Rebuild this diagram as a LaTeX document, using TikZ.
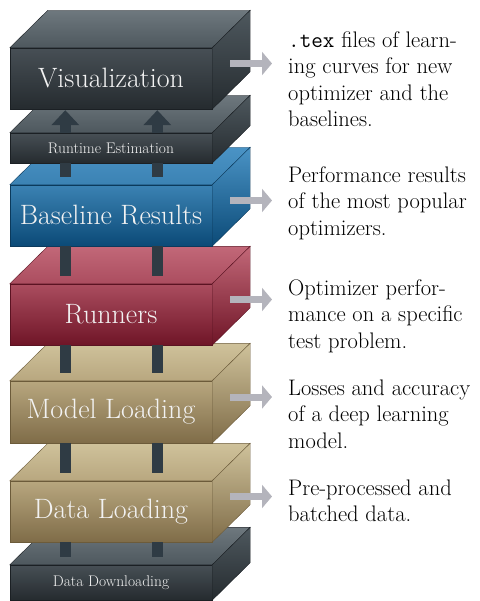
\documentclass[tikz,border=0pt]{standalone}
\usetikzlibrary{arrows.meta,calc,positioning}

\definecolor{slateA}{HTML}{474F55}
\definecolor{slateB}{HTML}{252B2F}
\definecolor{slateC}{HTML}{6E787E}
\definecolor{slateD}{HTML}{4E585E}
\definecolor{slateedge}{HTML}{1B2024}
\definecolor{blueA}{HTML}{3B82B3}
\definecolor{blueB}{HTML}{0B4A77}
\definecolor{blueC}{HTML}{4A93C5}
\definecolor{blueedge}{HTML}{0B3A5C}
\definecolor{redA}{HTML}{AB4D5F}
\definecolor{redB}{HTML}{6F1527}
\definecolor{redC}{HTML}{C26878}
\definecolor{rededge}{HTML}{5B1322}
\definecolor{tanA}{HTML}{B8A77F}
\definecolor{tanB}{HTML}{7F6C48}
\definecolor{tanC}{HTML}{CFC29B}
\definecolor{tanedge}{HTML}{6C5B3A}
\definecolor{labeltext}{HTML}{F2F2F2}
\definecolor{pillarcol}{HTML}{2F3B44}
\definecolor{infogray}{HTML}{B4B4BC}

\tikzset{
  layer/.style={minimum width=202pt, inner sep=0pt, text=labeltext},
  bigtext/.style={font=\fontsize{28}{32}\selectfont},
  smalltext/.style={font=\fontsize{15.5}{18}\selectfont},
  slatefront/.style={draw=slateedge, top color=slateA, bottom color=slateB},
  slatetop/.style={draw=slateedge, top color=slateC, bottom color=slateD},
  slateside/.style={draw=slateedge, top color=slateD, bottom color=slateB},
  bluefront/.style={draw=blueedge, top color=blueA, bottom color=blueB},
  bluetop/.style={draw=blueedge, top color=blueC, bottom color=blueA},
  blueside/.style={draw=blueedge, top color=blueC, bottom color=blueB},
  redfront/.style={draw=rededge, top color=redA, bottom color=redB},
  redtop/.style={draw=rededge, top color=redC, bottom color=redA},
  redside/.style={draw=rededge, top color=redC, bottom color=redB},
  tanfront/.style={draw=tanedge, top color=tanA, bottom color=tanB},
  tantop/.style={draw=tanedge, top color=tanC, bottom color=tanA},
  tanside/.style={draw=tanedge, top color=tanC, bottom color=tanB},
  pillar/.style={draw=pillarcol, line width=11pt, shorten >=7.5pt},
  lift/.style={draw=pillarcol, line width=11pt, shorten >=1pt, -{Triangle[length=15pt,width=27pt]}},
  infoarrow/.style={draw=infogray, line width=7pt, shorten >=16pt, -{Triangle[length=10pt,width=23pt]}},
  info/.style={anchor=north west, inner sep=0pt, align=left, font=\fontsize{22.5}{26.6}\selectfont}
}

% top and side faces of a layer
\newcommand{\layerfaces}[2]{%
  \draw[#2top] (#1.north west) -- ++(38,-37.5) -- ($(#1.north east)+(38,-37.5)$) -- (#1.north east) -- cycle;
  \draw[#2side] (#1.north east) -- ++(38,-37.5) -- ($(#1.south east)+(38,-37.5)$) -- (#1.south east) -- cycle;
}

\begin{document}
\begin{tikzpicture}[x=1pt,y=-1pt]
\useasboundingbox (0,0) rectangle (479,601);

% layers, bottom up
\node[layer, slatefront, smalltext, minimum height=35pt] (down) at (111,582.5) {Data Downloading};
\layerfaces{down}{slate}
\node[layer, tanfront, bigtext, minimum height=61pt] (data) at (111,511.5) {Data Loading};
\layerfaces{data}{tan}
\node[layer, tanfront, bigtext, minimum height=62pt] (model) at (111,412) {Model Loading};
\layerfaces{model}{tan}
\node[layer, redfront, bigtext, minimum height=61pt] (runners) at (111,314.5) {Runners};
\layerfaces{runners}{red}
\node[layer, bluefront, bigtext, minimum height=61pt] (base) at (111,215.5) {Baseline Results};
\layerfaces{base}{blue}
\node[layer, slatefront, smalltext, minimum height=30pt] (run) at (111,148) {Runtime Estimation};
\layerfaces{run}{slate}
\node[layer, slatefront, bigtext, minimum height=61pt] (vis) at (111,78.5) {Visualization};
\layerfaces{vis}{slate}

% pillars between layers
\foreach \up/\lo in {run/base, base/runners, runners/model, model/data, data/down}
  \foreach \dx in {55.5pt,147.5pt}
    \draw[pillar] ([xshift=\dx]\up.south west) -- ([xshift=\dx]\lo.north west);
\foreach \dx in {55.5pt,147.5pt}
  \draw[lift] ([xshift=\dx]run.north west) -- ([xshift=\dx]vis.south west);

% descriptions
\node[info] (vis-info) at (288,31.1) {\texttt{.tex} files of learn-\\ing curves for new\\optimizer and the\\baselines.};
\node[info] (base-info) at (288,166.1) {Performance results\\of the most popular\\optimizers.};
\node[info] (runners-info) at (288,279.4) {Optimizer perfor-\\mance on a specific\\test problem.};
\node[info] (model-info) at (288,379.4) {Losses and accuracy\\of a deep learning\\model.};
\node[info] (data-info) at (288,479.4) {Pre-processed and\\batched data.};

\foreach \n in {vis,base,runners,model,data} {
  \coordinate (\n-side) at ($(\n.east)+(18,-15)$);
  \draw[infoarrow] (\n-side) -- (\n-side -| \n-info.west);
}
\end{tikzpicture}
\end{document}
